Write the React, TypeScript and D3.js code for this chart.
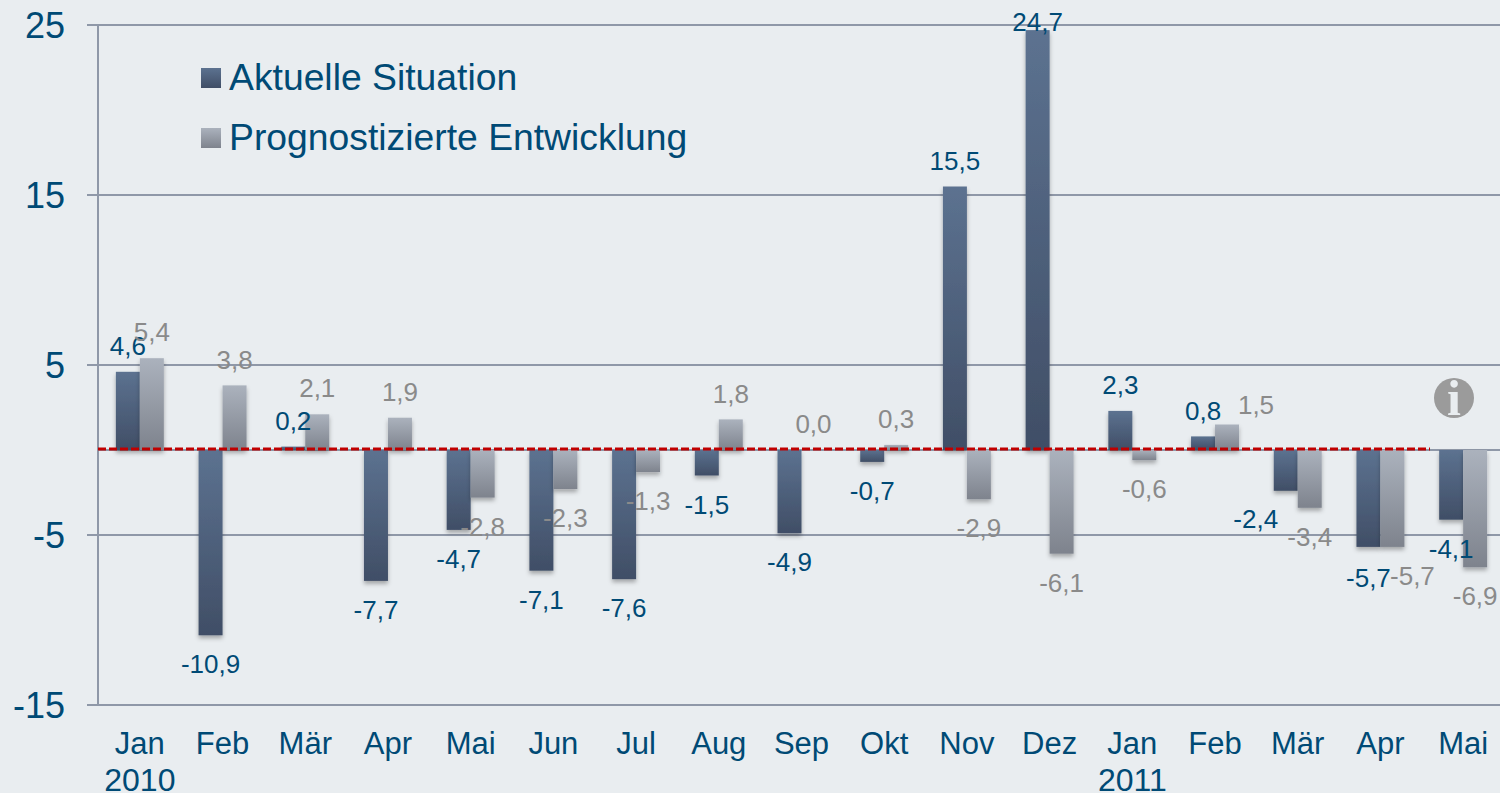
import React from 'react';
import { scaleBand, scaleLinear } from 'd3';

const months = ['Jan', 'Feb', 'Mär', 'Apr', 'Mai', 'Jun', 'Jul', 'Aug', 'Sep', 'Okt', 'Nov', 'Dez', 'Jan', 'Feb', 'Mär', 'Apr', 'Mai'];
const years = [{ index: 0, label: '2010' }, { index: 12, label: '2011' }];
const aktuell = [4.6, -10.9, 0.2, -7.7, -4.7, -7.1, -7.6, -1.5, -4.9, -0.7, 15.5, 24.7, 2.3, 0.8, -2.4, -5.7, -4.1];
const prognose = [5.4, 3.8, 2.1, 1.9, -2.8, -2.3, -1.3, 1.8, 0.0, 0.3, -2.9, -6.1, -0.6, 1.5, -3.4, -5.7, -6.9];
const yTicks = [25, 15, 5, -5, -15];
const legendLabels = ['Aktuelle Situation', 'Prognostizierte Entwicklung'];

const width = 1500;
const height = 793;
const font = '"Liberation Sans", Arial, sans-serif';
const blue = '#004a75';
const grey = '#8a8a8a';
const lineColor = '#8f98a8';

const series = [
  { key: 'aktuell', values: aktuell, fill: 'url(#gradDark)', text: blue },
  { key: 'prognose', values: prognose, fill: 'url(#gradGrey)', text: grey },
];

// data labels nudged by hand in the original chart, "series-month" -> dx, dy
const labelNudge: Record<string, [number, number]> = {
  'prognose-13': [29, 6],
  'aktuell-14': [-30, -1],
  'prognose-15': [20, 0],
  'aktuell-15': [0, 2],
};

const fmt = (v: number) => v.toFixed(1).replace('.', ',');

const App = () => {
  const ids = months.map((_, i) => String(i));

  const x = scaleBand()
    .domain(ids)
    .range([98.5, 1504.5])
    .paddingInner(0.42)
    .paddingOuter(0.21);

  const xInner = scaleBand()
    .domain(series.map(s => s.key))
    .range([0, x.bandwidth()]);

  const y = scaleLinear().domain([-15, 25]).range([705, 25]);

  const labelY = (v: number) => (v >= 0 ? Math.max(22, y(v) - 26) : y(v) + 29);

  return (
    <svg
      width={width}
      height={height}
      style={{ position: 'absolute', left: 0, top: 0, background: '#e9edf0' }}
      fontFamily={font}
    >
      <defs>
        <linearGradient id="gradDark" x1="0" y1="0" x2="0" y2="1">
          <stop offset="0%" stopColor="#5c7290" />
          <stop offset="100%" stopColor="#404e66" />
        </linearGradient>
        <linearGradient id="gradGrey" x1="0" y1="0" x2="0" y2="1">
          <stop offset="0%" stopColor="#abb2bd" />
          <stop offset="100%" stopColor="#7e838d" />
        </linearGradient>
        <filter id="barShadow" x="-20%" y="-10%" width="140%" height="125%">
          <feDropShadow dx="0" dy="3" stdDeviation="2" floodColor="#000" floodOpacity="0.3" />
        </filter>
      </defs>

      {yTicks.map(t => (
        <g key={t}>
          <line x1={87} x2={width} y1={y(t)} y2={y(t)} stroke={lineColor} strokeWidth={2} />
          <text x={65} y={y(t) + 12.5} textAnchor="end" fontSize={36} fill={blue}>{t}</text>
        </g>
      ))}
      <line x1={98} x2={98} y1={y(25)} y2={y(-15)} stroke={lineColor} strokeWidth={2} />
      <line x1={98} x2={width} y1={y(0)} y2={y(0)} stroke={lineColor} strokeWidth={2} />

      {series.map(s => (
        <g key={s.key} filter="url(#barShadow)">
          {s.values.map((v, i) => (
            <rect
              key={i}
              x={x(ids[i]) + xInner(s.key)}
              y={y(Math.max(v, 0))}
              width={xInner.bandwidth()}
              height={Math.abs(y(v) - y(0))}
              fill={s.fill}
            />
          ))}
        </g>
      ))}

      <line x1={98} x2={1430} y1={y(0) - 1} y2={y(0) - 1} stroke="#c00000" strokeWidth={3} strokeDasharray="8 3" />

      {series.map(s => (
        <g key={s.key}>
          {s.values.map((v, i) => {
            const [dx, dy] = labelNudge[`${s.key}-${i}`] || [0, 0];
            return (
              <text
                key={i}
                x={x(ids[i]) + xInner(s.key) + xInner.bandwidth() / 2 + dx}
                y={labelY(v) + dy}
                dy=".35em"
                textAnchor="middle"
                fontSize={26}
                fill={s.text}
              >
                {fmt(v)}
              </text>
            );
          })}
        </g>
      ))}

      {months.map((m, i) => (
        <text key={i} x={x(ids[i]) + x.bandwidth() / 2} y={754} textAnchor="middle" fontSize={31} fill={blue}>{m}</text>
      ))}
      {years.map(d => (
        <text key={d.label} x={x(ids[d.index]) + x.bandwidth() / 2} y={791} textAnchor="middle" fontSize={32} fill={blue}>{d.label}</text>
      ))}

      {legendLabels.map((l, i) => (
        <g key={l} transform={`translate(201, ${68 + i * 60})`}>
          <rect width={20} height={20} fill={series[i].fill} />
          <text x={28} y={22} fontSize={37.3} fill={blue}>{l}</text>
        </g>
      ))}

      <g transform="translate(1454, 398)">
        <circle r={20} fill="#9b9b9b" />
        <text y={17} textAnchor="middle" fontSize={50} fontWeight="bold" fontFamily='"Liberation Serif", serif' fill="#e9edf0">i</text>
      </g>
    </svg>
  );
};

export default App;
